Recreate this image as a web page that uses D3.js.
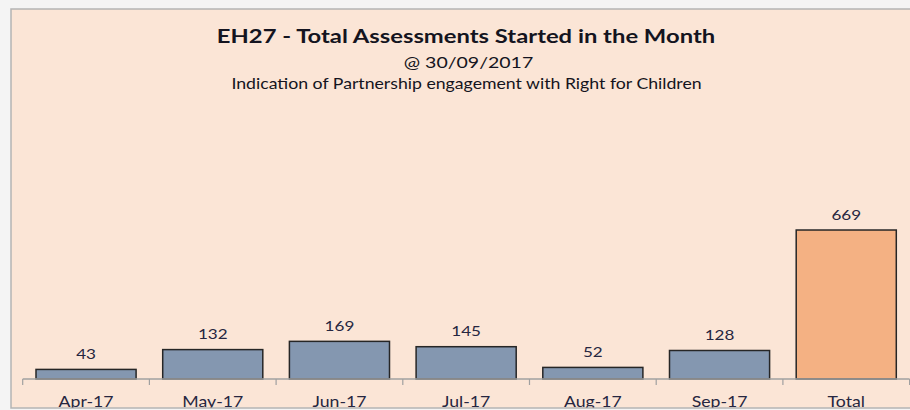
<!DOCTYPE html>
<html>
<head>
<meta charset="utf-8">
<script src="https://cdn.jsdelivr.net/npm/d3@7"></script>
<style>
  body { margin: 0; background: #f4f4f4; }
  text { font-family: Lato, "Open Sans", sans-serif; }
</style>
</head>
<body>
<div id="vis"></div>
<script>
// chart data
var categories = ["Apr-17", "May-17", "Jun-17", "Jul-17", "Aug-17", "Sep-17", "Total"];
var values = [43, 132, 169, 145, 52, 128, 669];
var titleText = "EH27 - Total Assessments Started in the Month";
var subTitle = "@ 30/09/2017";
var noteText = "Indication of Partnership engagement with Right for Children";

var W = 910, H = 410;
var frame = {left: 11, top: 9, bottom: 408};
var axisY = 379, plotLeft = 22.7, plotRight = 909.6;
var sx = 1.22; // the source text is a bit stretched sideways

var svg = d3.select("#vis").append("svg")
    .attr("width", W)
    .attr("height", H);

// chart area
svg.append("rect")
    .attr("x", frame.left)
    .attr("y", frame.top)
    .attr("width", W - frame.left + 1)
    .attr("height", frame.bottom - frame.top)
    .attr("fill", "#fbe5d6")
    .attr("stroke", "#b4b4b4")
    .attr("stroke-width", 1.5);

var x = d3.scaleBand()
    .domain(categories)
    .range([plotLeft, plotRight])
    .paddingInner(0.21)
    .paddingOuter(0.105);

var y = d3.scaleLinear()
    .domain([0, 800])
    .range([axisY, axisY - 800 * 0.2227]);

svg.append("clipPath").attr("id", "clip")
  .append("rect")
    .attr("x", frame.left).attr("y", frame.top)
    .attr("width", W - frame.left).attr("height", frame.bottom - frame.top - 0.5);

var g = svg.append("g").attr("clip-path", "url(#clip)");

function stretched(sel, px, py) {
  sel.attr("transform", function(d, i) {
    return "translate(" + px(d, i) + "," + py(d, i) + ") scale(" + sx + ",1)";
  });
}

// bars
g.selectAll(".bar")
    .data(values)
  .enter().append("rect")
    .attr("class", "bar")
    .attr("x", function(d, i) { return x(categories[i]); })
    .attr("y", function(d) { return y(d); })
    .attr("width", x.bandwidth())
    .attr("height", function(d) { return y(0) - y(d); })
    .attr("fill", function(d, i) { return categories[i] == "Total" ? "#f4b183" : "#8497b0"; })
    .attr("stroke", "#262626")
    .attr("stroke-width", 1.5);

// value labels
g.selectAll(".val")
    .data(values)
  .enter().append("text")
    .attr("class", "val")
    .attr("text-anchor", "middle")
    .attr("font-size", "14px")
    .attr("fill", "#262640")
    .text(function(d) { return d; })
    .call(stretched,
      function(d, i) { return x(categories[i]) + x.bandwidth() / 2; },
      function(d) { return y(d) - 10.5; });

// x axis, ticks between categories like Excel
var axis = g.append("g");
axis.append("line")
    .attr("x1", plotLeft).attr("x2", plotRight)
    .attr("y1", axisY).attr("y2", axisY)
    .attr("stroke", "#a0a0a0")
    .attr("stroke-width", 1.5);
var step = x.step();
axis.selectAll(".tick")
    .data(d3.range(categories.length + 1))
  .enter().append("line")
    .attr("x1", function(i) { return plotLeft + i * step; })
    .attr("x2", function(i) { return plotLeft + i * step; })
    .attr("y1", axisY).attr("y2", axisY + 6)
    .attr("stroke", "#a0a0a0")
    .attr("stroke-width", 1.2);
axis.selectAll(".lab")
    .data(categories)
  .enter().append("text")
    .attr("text-anchor", "middle")
    .attr("font-size", "14.5px")
    .attr("fill", "#262640")
    .text(function(d) { return d; })
    .call(stretched,
      function(d) { return x(d) + x.bandwidth() / 2; },
      function() { return 407; });

// titles
svg.append("text")
    .attr("text-anchor", "middle")
    .attr("font-size", "19.5px")
    .attr("font-weight", "bold")
    .attr("fill", "#141420")
    .text(titleText)
    .call(stretched, function() { return 466; }, function() { return 42.5; });
svg.append("text")
    .attr("text-anchor", "middle")
    .attr("font-size", "16px")
    .attr("fill", "#141420")
    .text(subTitle)
    .call(stretched, function() { return 468.5; }, function() { return 68; });
svg.append("text")
    .attr("text-anchor", "middle")
    .attr("font-size", "14.5px")
    .attr("fill", "#141420")
    .text(noteText)
    .call(stretched, function() { return 466.5; }, function() { return 89.3; });
</script>
</body>
</html>
